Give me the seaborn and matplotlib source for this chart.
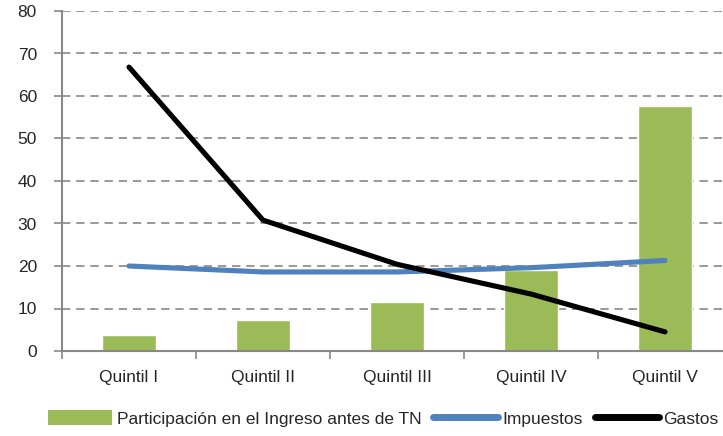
import matplotlib
matplotlib.use("Agg")
import matplotlib.pyplot as plt
import seaborn as sns
import pandas as pd
from matplotlib.lines import Line2D
from matplotlib.patches import Patch

quintiles = ["Quintil I", "Quintil II", "Quintil III", "Quintil IV", "Quintil V"]
participacion = [3.7, 7.3, 11.6, 19.0, 57.7]
impuestos = [20.0, 18.6, 18.6, 19.6, 21.3]
gastos = [66.8, 30.8, 20.4, 13.4, 4.5]

df = pd.DataFrame({"quintil": quintiles, "part": participacion,
                   "imp": impuestos, "gas": gastos})

sns.set_style("white")
plt.rcParams["font.family"] = ["Liberation Sans", "DejaVu Sans"]

green = "#9BBB59"
blue = "#4F81BD"

fig = plt.figure(figsize=(7.23, 4.36), dpi=100)
ax = fig.add_axes([62 / 723, 85 / 436, 670 / 723, 340 / 436])

sns.barplot(data=df, x="quintil", y="part", color=green, width=0.40,
            saturation=1, ax=ax, zorder=2)
sns.lineplot(data=df, x="quintil", y="imp", color=blue, lw=3.7, sort=False,
             ax=ax, zorder=3)
sns.lineplot(data=df, x="quintil", y="gas", color="black", lw=3.7, sort=False,
             ax=ax, zorder=4)
for l in ax.lines:
    l.set_solid_capstyle("round")

ax.set_xlim(-0.5, 4.5)
ax.set_ylim(0, 80)
ax.set_yticks(range(0, 81, 10))
ax.yaxis.grid(True, color="#888888", ls=(0, (5, 3.5)), lw=1.2)
ax.set_axisbelow(True)
ax.set_xlabel("")
ax.set_ylabel("")

for s in ["top", "right"]:
    ax.spines[s].set_visible(False)
for s in ["left", "bottom"]:
    ax.spines[s].set_color("#888888")
    ax.spines[s].set_linewidth(1.5)

ax.tick_params(axis="y", which="major", length=6, width=1.2, color="#888888",
               labelsize=12.5, pad=12, left=True)
ax.tick_params(axis="x", which="major", length=0, labelsize=12.5, pad=14)
ax.set_xticks([i - 0.5 for i in range(6)], minor=True)
ax.tick_params(axis="x", which="minor", length=6, width=1.2, color="#888888",
               bottom=True)

handles = [Patch(facecolor=green, edgecolor="none"),
           Line2D([0], [0], color=blue, lw=5, solid_capstyle="round"),
           Line2D([0], [0], color="black", lw=5, solid_capstyle="round")]
labels = ["Participación en el Ingreso antes de TN", "Impuestos", "Gastos"]
fig.legend(handles, labels, loc="center", bbox_to_anchor=(0.53, 0.04),
           ncol=3, frameon=False, fontsize=12.5, handlelength=3.7,
           handleheight=0.9, handletextpad=0.25, columnspacing=0.7)

fig.savefig("out.png", dpi=100)
